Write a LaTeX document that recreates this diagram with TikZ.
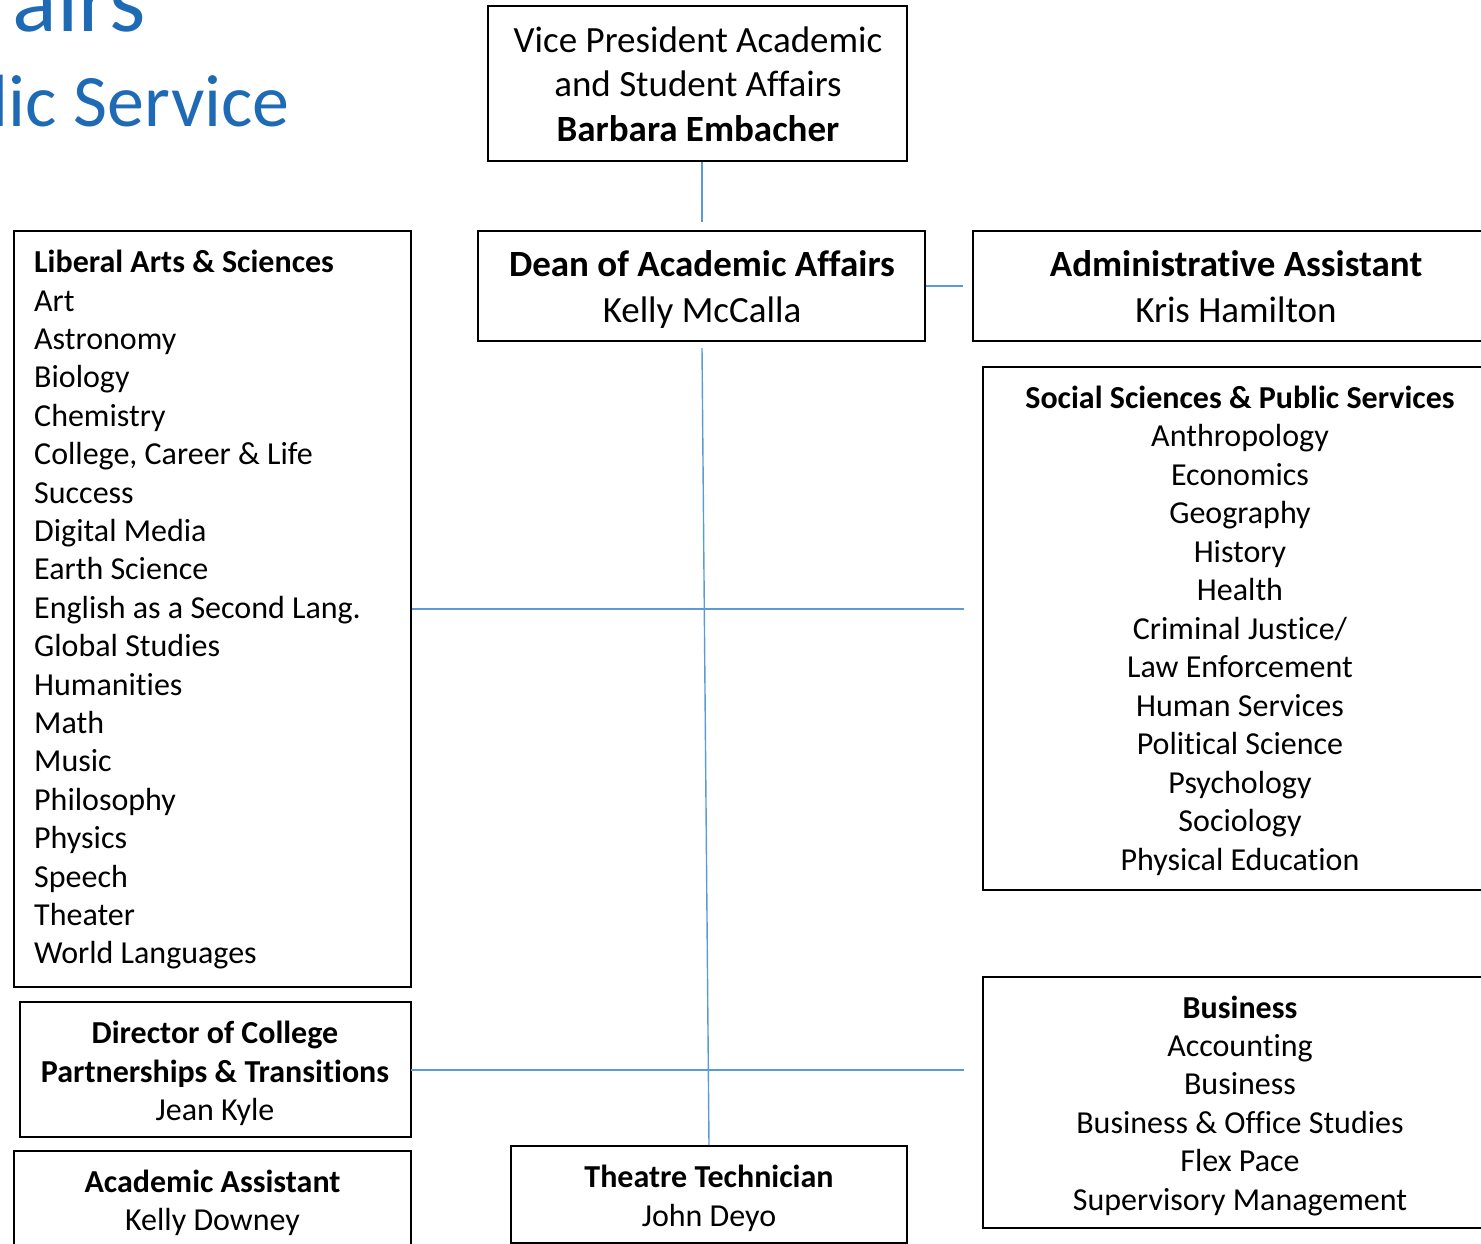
\documentclass[tikz,border=0pt]{standalone}
\usepackage{fontspec}
\setmainfont{Carlito}[Ligatures=NoCommon]
\newcommand\nti{t\kern0pt i}
\definecolor{titleblue}{RGB}{31,106,181}
\definecolor{connblue}{RGB}{91,155,213}
\begin{document}
\begin{tikzpicture}[x=1pt,y=-1pt,
  box/.style={draw=black,line width=2pt,inner sep=0pt,rectangle},
  conn/.style={draw=connblue,line width=1.4pt},
  t32/.style={inner sep=0pt,font=\fontsize{32}{38.4}\selectfont},
  t37/.style={inner sep=0pt,font=\fontsize{37}{44}\selectfont},
  ttl/.style={inner sep=0pt,text=titleblue}]
\useasboundingbox (0,0) rectangle (1481,1244);
\clip (0,0) rectangle (1481,1244);

% title fragments
\node[ttl,anchor=base east,font=\fontsize{93}{100}\selectfont] (title1) at (146,32) {airs};
\node[ttl,anchor=base east,font=\fontsize{74}{90}\selectfont] (title2) at (290,127) {lic Service};

% boxes
\node[box,minimum width=419pt,minimum height=155pt] (vp) at (697.5,83.5) {};
\node[box,minimum width=447pt,minimum height=110pt] (dean) at (701.5,286) {};
\node[box,minimum width=526pt,minimum height=110pt] (admin) at (1236,286) {};
\node[box,minimum width=397pt,minimum height=756pt] (las) at (212.5,609) {};
\node[box,minimum width=514pt,minimum height=523pt] (ssps) at (1240,628.5) {};
\node[box,minimum width=391pt,minimum height=135pt] (dir) at (215.5,1069.5) {};
\node[box,minimum width=397pt,minimum height=109pt] (aa) at (212.5,1205.5) {};
\node[box,minimum width=396pt,minimum height=97pt] (theatre) at (709,1194.5) {};
\node[box,minimum width=514pt,minimum height=251pt] (bus) at (1240,1102.5) {};

% connectors
\coordinate (vpdown) at (702,162);
\coordinate (deanup) at (702,222);
\coordinate (adminleft) at (963,286);
\coordinate (spinetop) at (702,348);
\coordinate (ssend) at (964,609);
\coordinate (busend) at (964,1070);
\coordinate (dirstart) at (411,1070);
\draw[conn] (vpdown) -- (deanup);
\draw[conn] (dean.east) -- (adminleft);
\draw[conn] (spinetop) -- (theatre.north);
\draw[conn] (las.east) -- (ssend);
\draw[conn] (dirstart) -- (busend);

% VP text
\node[t37,anchor=base] (vp1) at (698,53) {Vice President Academic};
\node[t37,anchor=base] (vp2) at (698,97) {and Student Affairs};
\node[t37,anchor=base] (vp3) at (698,142) {\bfseries Barbara Embacher};

% Dean text
\node[t37,anchor=base] (dean1) at (702,276) {\bfseries Dean of Academic Affairs};
\node[t37,anchor=base] (dean2) at (702,322) {Kelly McCalla};

% Admin text
\node[t37,anchor=base] (adm1) at (1236,276) {\bfseries Administra\nti ve Assistant};
\node[t37,anchor=base] (adm2) at (1236,322) {Kris Hamilton};

% Liberal arts list
\node[t32,anchor=base west] (lashead) at (34,272) {\bfseries Liberal Arts \& Sciences};
\foreach \t [count=\i from 0] in {Art,Astronomy,Biology,Chemistry,{College, Career \& Life},Success,Digital Media,Earth Science,English as a Second Lang.,Global Studies,Humani\nti es,Math,Music,Philosophy,Physics,Speech,Theater,World Languages}
  \node[t32,anchor=base west] (las\i) at (34,311+38.4*\i) {\t};

% Social sciences list
\node[t32,anchor=base] (sshead) at (1240,408) {\bfseries Social Sciences \& Public Services};
\foreach \t [count=\i from 1] in {Anthropology,Economics,Geography,History,Health,Criminal Justice/,Law Enforcement,Human Services,Poli\nti cal Science,Psychology,Sociology,Physical Educa\nti on}
  \node[t32,anchor=base] (ss\i) at (1240,408+38.5*\i) {\t};

% Business list
\node[t32,anchor=base] (bushead) at (1240,1018) {\bfseries Business};
\foreach \t [count=\i from 1] in {Accoun\nti ng,Business,Business \& Office Studies,Flex Pace,Supervisory Management}
  \node[t32,anchor=base] (bus\i) at (1240,1018+38.4*\i) {\t};

% Director
\node[t32,anchor=base] (dir1) at (215,1043) {\bfseries Director of College};
\node[t32,anchor=base] (dir2) at (215,1082) {\bfseries Partnerships \& Transi\nti ons};
\node[t32,anchor=base] (dir3) at (215,1120) {Jean Kyle};

% Academic assistant
\node[t32,anchor=base] (aa1) at (212.5,1192) {\bfseries Academic Assistant};
\node[t32,anchor=base] (aa2) at (212.5,1230) {Kelly Downey};

% Theatre
\node[t32,anchor=base] (th1) at (709,1187) {\bfseries Theatre Technician};
\node[t32,anchor=base] (th2) at (709,1226) {John Deyo};
\end{tikzpicture}
\end{document}
